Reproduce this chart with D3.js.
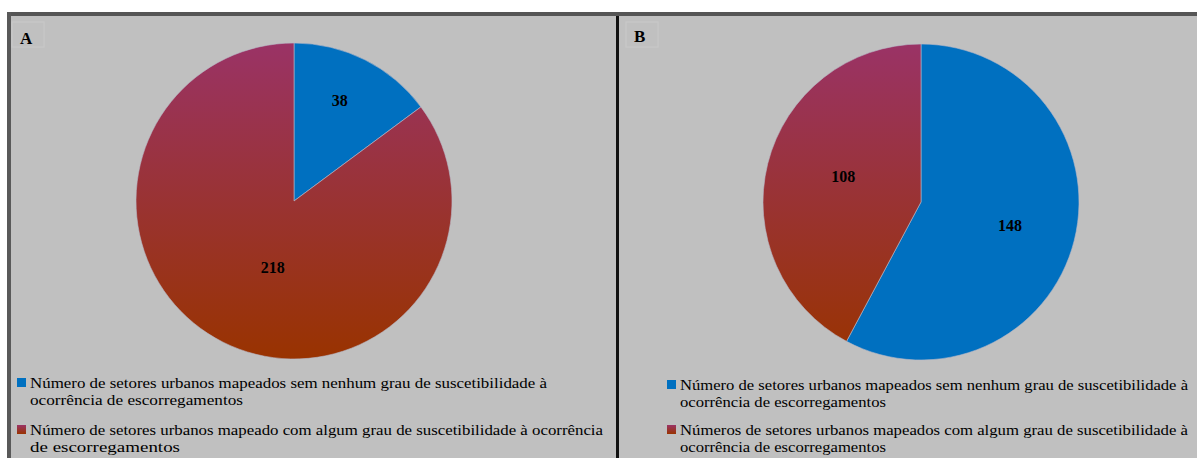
<!DOCTYPE html>
<html>
<head>
<meta charset="utf-8">
<script src="https://cdn.jsdelivr.net/npm/d3@7"></script>
<style>
  html, body { margin: 0; padding: 0; background: #ffffff; }
  svg { display: block; }
  text { font-family: "Liberation Serif", "Times New Roman", serif; fill: #000; }
</style>
</head>
<body>
<svg id="chart" width="1197" height="458"></svg>
<script>
// Panel data
const panelIds = ["A", "B"];
const categoriesA = [
  "Número de setores urbanos mapeados sem nenhum grau de suscetibilidade à ocorrência de escorregamentos",
  "Número de setores urbanos mapeado com algum grau de suscetibilidade à ocorrência de escorregamentos"
];
const categoriesB = [
  "Número de setores urbanos mapeados sem nenhum grau de suscetibilidade à ocorrência de escorregamentos",
  "Números de setores urbanos mapeados com algum grau de suscetibilidade à ocorrência de escorregamentos"
];
const valuesA = [38, 218];
const valuesB = [148, 108];
// Legend text as wrapped on the page
const legendLinesA = [
  ["Número de setores urbanos mapeados sem nenhum grau de suscetibilidade à", "ocorrência de escorregamentos"],
  ["Número de setores urbanos mapeado com algum grau de suscetibilidade à ocorrência", "de escorregamentos"]
];
const legendLinesB = [
  ["Número de setores urbanos mapeados sem nenhum grau de suscetibilidade à", "ocorrência de escorregamentos"],
  ["Números de setores urbanos mapeados com algum grau de suscetibilidade à", "ocorrência de escorregamentos"]
];

const svg = d3.select("#chart");
const defs = svg.append("defs");
const BG = "#c0c0c0";
const BLUE = "#0070c0";
const TOP_COLOR = "#9a3366";
const BOTTOM_COLOR = "#993300";

// Frame
svg.append("rect").attr("x", 7).attr("y", 12).attr("width", 1190).attr("height", 446).attr("fill", BG);
svg.append("rect").attr("x", 7).attr("y", 12).attr("width", 1190).attr("height", 4).attr("fill", "#555555");
svg.append("rect").attr("x", 7).attr("y", 12).attr("width", 4).attr("height", 446).attr("fill", "#595959");
svg.append("rect").attr("x", 616).attr("y", 16).attr("width", 3).attr("height", 442).attr("fill", "#111111");

const layout = [
  { id: "A", cx: 294, cy: 201, r: 158, labelX: 20, labelY: 44, boxX: 12,
    values: valuesA, cats: categoriesA, lines: legendLinesA,
    labelR: [0.70, 0.44], labelShift: [[-4, -2], [10, 4]],
    legX: 17, legY: [388, 435], legW: [[517, 213], [573, 150]] },
  { id: "B", cx: 921, cy: 202, r: 158, labelX: 634, labelY: 42, boxX: 626,
    values: valuesB, cats: categoriesB, lines: legendLinesB,
    labelR: [0.58, 0.52], labelShift: [[0, 1], [2, -6]],
    legX: 667, legY: [390, 435], legW: [[508, 206], [508, 206]] }
];

layout.forEach((p, pi) => {
  const g = svg.append("g");

  // Panel letter with its faint text box
  g.append("rect").attr("x", p.boxX).attr("y", 22).attr("width", 32).attr("height", 25)
    .attr("fill", "none").attr("stroke", "#c9c9c9").attr("stroke-width", 1);
  g.append("text").attr("x", p.labelX).attr("y", p.labelY)
    .attr("font-size", 17).attr("font-weight", "bold").text(panelIds[pi]);

  // Vertical gradient spanning the pie's height (in the pie's own coordinates)
  const gradId = "grad" + p.id;
  const grad = defs.append("linearGradient").attr("id", gradId)
    .attr("gradientUnits", "userSpaceOnUse")
    .attr("x1", 0).attr("y1", -p.r).attr("x2", 0).attr("y2", p.r);
  grad.append("stop").attr("offset", "0%").attr("stop-color", TOP_COLOR);
  grad.append("stop").attr("offset", "100%").attr("stop-color", BOTTOM_COLOR);

  const swGradId = "swgrad" + p.id;
  const sg = defs.append("linearGradient").attr("id", swGradId)
    .attr("x1", 0).attr("y1", 0).attr("x2", 0).attr("y2", 1);
  sg.append("stop").attr("offset", "0%").attr("stop-color", TOP_COLOR);
  sg.append("stop").attr("offset", "100%").attr("stop-color", BOTTOM_COLOR);

  const colors = [BLUE, `url(#${gradId})`];
  const swColors = [BLUE, `url(#${swGradId})`];

  const pie = d3.pie().sort(null).value(d => d);
  const arcs = pie(p.values);
  const arc = d3.arc().innerRadius(0).outerRadius(p.r);

  const pg = g.append("g").attr("transform", `translate(${p.cx},${p.cy})`);
  pg.selectAll("path").data(arcs).join("path")
    .attr("d", arc)
    .attr("fill", (d, i) => colors[i])
    .attr("stroke", "#b8b8c8").attr("stroke-width", 0.6);

  // Value labels
  arcs.forEach((d, i) => {
    const a = (d.startAngle + d.endAngle) / 2;
    const rr = p.r * p.labelR[i];
    g.append("text")
      .attr("x", p.cx + Math.sin(a) * rr + p.labelShift[i][0])
      .attr("y", p.cy - Math.cos(a) * rr + p.labelShift[i][1])
      .attr("text-anchor", "middle").attr("dominant-baseline", "central")
      .attr("font-size", 16).attr("font-weight", "bold")
      .text(d.data);
  });

  // Legend
  p.lines.forEach((lines, i) => {
    const y0 = p.legY[i];
    g.append("rect").attr("x", p.legX).attr("y", y0 - 10).attr("width", 9).attr("height", 9)
      .attr("fill", swColors[i]);
    lines.forEach((ln, j) => {
      g.append("text").attr("x", p.legX + 13).attr("y", y0 + j * 17)
        .attr("font-size", 15)
        .attr("textLength", p.legW[i][j]).attr("lengthAdjust", "spacingAndGlyphs")
        .text(ln);
    });
  });
});
</script>
</body>
</html>
